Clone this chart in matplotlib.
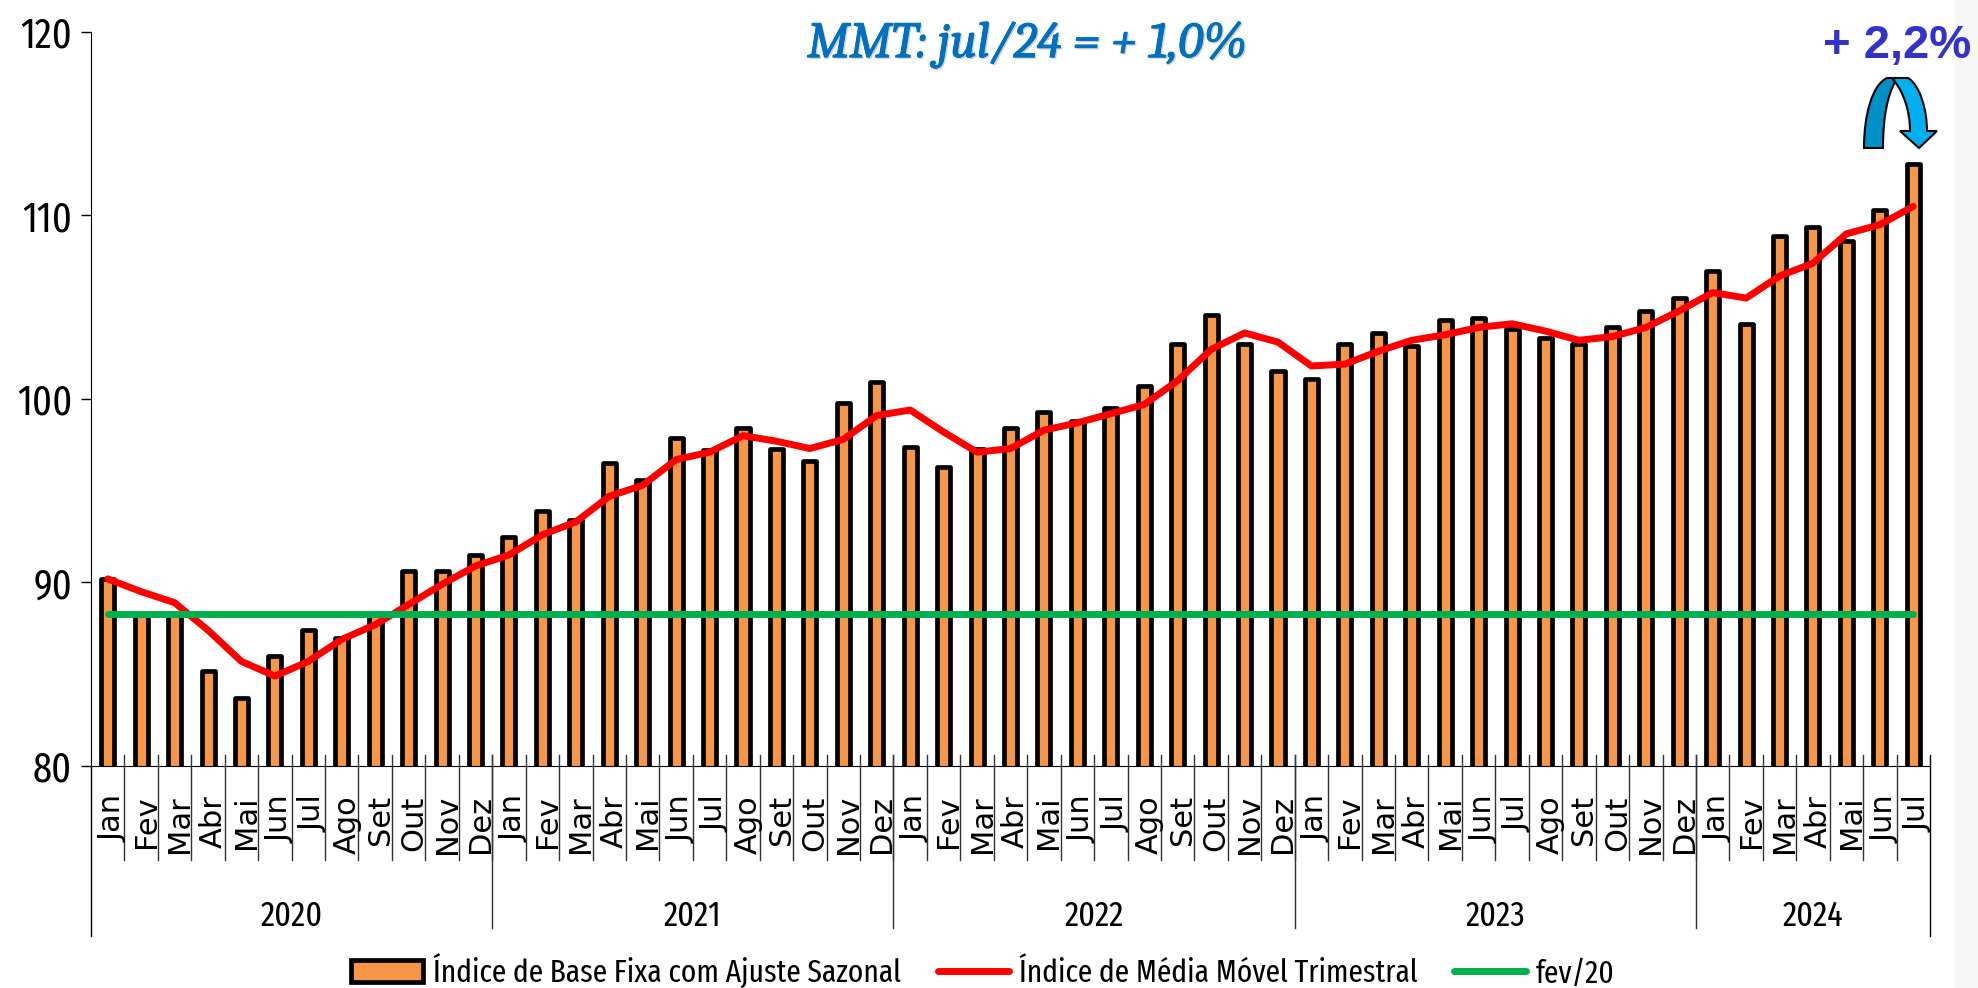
import matplotlib
matplotlib.use("Agg")
import matplotlib.pyplot as plt
import matplotlib.patheffects as pe
from matplotlib.patches import PathPatch, Patch, Rectangle
from matplotlib.path import Path
from matplotlib.lines import Line2D
from matplotlib.transforms import Affine2D, ScaledTranslation

months = ["Jan", "Fev", "Mar", "Abr", "Mai", "Jun", "Jul", "Ago", "Set", "Out", "Nov", "Dez"]
years = ["2020", "2021", "2022", "2023", "2024"]
month_labels = months * 4 + months[:7]

index_sa = [90.2, 88.3, 88.3, 85.2, 83.7, 86.0, 87.4, 87.0, 88.3, 90.6, 90.6, 91.5,
            92.5, 93.9, 93.4, 96.5, 95.6, 97.9, 97.2, 98.4, 97.3, 96.6, 99.8, 100.9,
            97.4, 96.3, 97.3, 98.4, 99.3, 98.8, 99.5, 100.7, 103.0, 104.6, 103.0, 101.5,
            101.1, 103.0, 103.6, 102.9, 104.3, 104.4, 103.8, 103.3, 103.0, 103.9, 104.8, 105.5,
            107.0, 104.1, 108.9, 109.4, 108.6, 110.3, 112.8]
index_mm3 = [90.2, 89.5, 88.9, 87.4, 85.7, 84.9, 85.7, 86.9, 87.7, 88.8, 89.9, 90.9,
             91.5, 92.6, 93.3, 94.7, 95.3, 96.7, 97.1, 98.0, 97.7, 97.3, 97.8, 99.1,
             99.4, 98.2, 97.1, 97.3, 98.3, 98.7, 99.2, 99.7, 101.0, 102.7, 103.6, 103.1,
             101.8, 101.9, 102.6, 103.2, 103.5, 103.9, 104.1, 103.7, 103.2, 103.4, 103.9, 104.8,
             105.8, 105.5, 106.7, 107.4, 109.0, 109.5, 110.5]
feb20_level = 88.3

narrow = ["Fira Sans Extra Condensed", "Liberation Sans"]
W, H = 1978, 988

fig = plt.figure(figsize=(W / 100, H / 100), dpi=100)
# light strip on the right edge of the image
fig.add_artist(Rectangle((1955 / W, 0), 23 / W, 1, transform=fig.transFigure, facecolor="#F7F7F7", edgecolor="none"))

ax = fig.add_axes([91 / W, 1 - 766 / H, (1930 - 91) / W, (766 - 32) / H])
ax.patch.set_alpha(0)

x = list(range(len(index_sa)))
ax.bar(x, index_sa, width=0.39, color="#F79646", edgecolor="black", linewidth=3.4, zorder=2, joinstyle="round")
ax.plot(x, index_mm3, color="#FF0000", lw=5, solid_capstyle="round", zorder=3)
ax.plot(x, [feb20_level] * len(x), color="#00B050", lw=5, solid_capstyle="round", zorder=4)

ax.set_xlim(-0.5, len(x) - 0.5)
ax.set_ylim(80, 120)
ax.set_yticks([80, 90, 100, 110, 120])
ax.tick_params(axis="y", length=7, width=1, pad=6.5, labelsize=30)
for lab in ax.get_yticklabels():
    lab.set_family(narrow)
ax.set_xticks(x)
ax.set_xticklabels(month_labels, rotation=90, fontsize=22, family="DejaVu Sans")
ax.tick_params(axis="x", length=0, pad=21)
# month labels sit slightly right of the bar centre
shift = ScaledTranslation(5 / 100, 0, fig.dpi_scale_trans)
for lab in ax.get_xticklabels():
    lab.set_transform(lab.get_transform() + shift)

for s in ["top", "right"]:
    ax.spines[s].set_visible(False)
ax.spines["left"].set_bounds(80, 120)

# month and year separators below the axis
tr = ax.get_xaxis_transform()
for i in range(1, len(x)):
    ax.plot([i - 0.5, i - 0.5], [0.015, -0.128], transform=tr, color="#333333", lw=1, clip_on=False, zorder=1)
    if i % 12 == 0:
        ax.plot([i - 0.5, i - 0.5], [0.015, -0.221], transform=tr, color="#333333", lw=1, clip_on=False, zorder=1)
ax.plot([-0.5, -0.5], [0, -0.2316], transform=tr, color="black", lw=1, clip_on=False)
ax.plot([len(x) - 0.5, len(x) - 0.5], [0.015, -0.2316], transform=tr, color="black", lw=1, clip_on=False)

for k, yr in enumerate(years):
    start = k * 12
    end = min(start + 12, len(x))
    ax.text((start + end - 1) / 2, -0.204, yr, transform=tr, ha="center", va="center",
            fontsize=25, family=narrow)

handles = [Patch(facecolor="#F79646", edgecolor="black", linewidth=3.4),
           Line2D([], [], color="#FF0000", lw=5, solid_capstyle="round"),
           Line2D([], [], color="#00B050", lw=5, solid_capstyle="round")]
labels = ["Índice de Base Fixa com Ajuste Sazonal", "Índice de Média Móvel Trimestral", "fev/20"]
fig.legend(handles, labels, ncol=3, frameon=False, loc="center", bbox_to_anchor=(983 / W, 1 - 971 / H),
           prop={"family": narrow, "size": 23}, handlelength=2.25, handleheight=0.7,
           handletextpad=0.3, columnspacing=1.15, borderpad=0)

title = fig.text(1027 / W, 1 - 45 / H, "MMT: jul/24 = + 1,0%", ha="center", va="center", fontsize=36.5,
                 color="#0070C0", style="italic", family=["Caladea", "Liberation Serif"])
title.set_path_effects([pe.withSimplePatchShadow(offset=(1.2, -1.2), shadow_rgbFace="#777777", alpha=0.35),
                        pe.withStroke(linewidth=0.7, foreground="#0070C0")])
fig.text(1897 / W, 1 - 46 / H, "+ 2,2%", ha="center", va="center", fontsize=34,
         color="#3333CC", weight="bold", family="Liberation Sans")

# curved arrow above the last bar, in pixel coordinates of the image
px = Affine2D().scale(1 / W, -1 / H).translate(0, 1) + fig.transFigure
back = Path([(1864, 148), (1883, 148), (1883, 115), (1888, 95), (1895, 82),
             (1892, 78), (1890, 78), (1887, 78), (1872, 85), (1864, 115), (1864, 148), (1864, 148)],
            [Path.MOVETO, Path.LINETO, Path.CURVE4, Path.CURVE4, Path.CURVE4,
             Path.LINETO, Path.LINETO, Path.LINETO, Path.CURVE4, Path.CURVE4, Path.CURVE4, Path.CLOSEPOLY])
front = Path([(1893, 78), (1908, 78), (1920, 85), (1927, 110), (1927, 131), (1937, 131), (1919, 148),
              (1900, 131), (1910, 131), (1910, 110), (1903, 92), (1895, 82), (1893, 78)],
             [Path.MOVETO, Path.LINETO, Path.CURVE4, Path.CURVE4, Path.CURVE4, Path.LINETO, Path.LINETO,
              Path.LINETO, Path.LINETO, Path.CURVE4, Path.CURVE4, Path.CURVE4, Path.CLOSEPOLY])
fig.add_artist(PathPatch(back, facecolor="#0090C8", edgecolor="black", lw=1.5, transform=px))
fig.add_artist(PathPatch(front, facecolor="#00B0F0", edgecolor="black", lw=1.5, transform=px))

fig.savefig("out.png", dpi=100)
